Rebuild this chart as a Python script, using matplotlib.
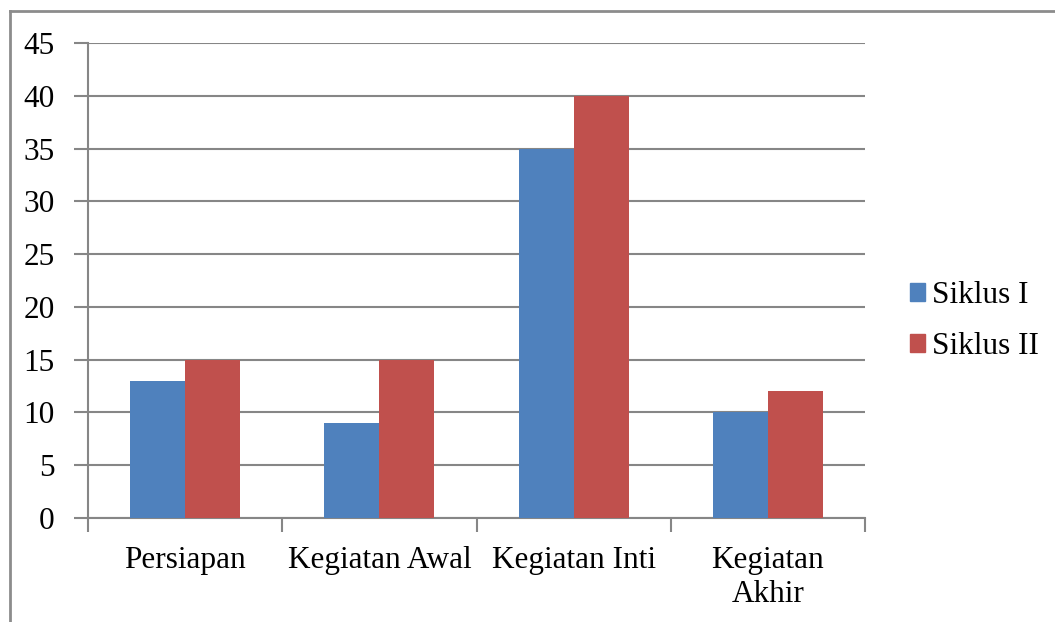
import matplotlib.pyplot as plt
import numpy as np
from matplotlib.patches import Patch
from matplotlib.lines import Line2D

kategori = ['Persiapan', 'Kegiatan Awal', 'Kegiatan Inti', 'Kegiatan\nAkhir']
siklus_1 = [13, 9, 35, 10]
siklus_2 = [15, 15, 40, 12]
seri = ['Siklus I', 'Siklus II']
warna = ['#4F81BD', '#C0504D']

plt.rcParams['font.family'] = ['Liberation Serif', 'DejaVu Serif']
fs = 22.5
abu = '#868686'

W, H = 1055, 622
fig = plt.figure(figsize=(W / 100, H / 100), dpi=100)
ax = fig.add_axes([88 / W, 1 - 518 / H, (865 - 88) / W, (518 - 43) / H])

x = np.arange(len(kategori))
lebar = 0.283
ax.bar(x - lebar / 2, siklus_1, lebar, color=warna[0], label=seri[0], zorder=3)
ax.bar(x + lebar / 2, siklus_2, lebar, color=warna[1], label=seri[1], zorder=3)

ax.set_xlim(-0.5, len(kategori) - 0.5)
ax.set_ylim(0, 45)
ax.set_yticks(range(0, 46, 5))
ax.yaxis.grid(True, color=abu, linewidth=1.5, zorder=0)

# tick kategori di batas, label di tengah
ax.set_xticks(np.arange(-0.5, len(kategori)), minor=False)
ax.set_xticklabels([])
ax.set_xticks(x, minor=True)
ax.set_xticklabels(kategori, minor=True, fontsize=fs, linespacing=1.25)
ax.tick_params(axis='x', which='minor', length=0, pad=20)
ax.tick_params(axis='x', which='major', length=10, width=1.5, color=abu, direction='out')
ax.tick_params(axis='y', length=10, width=1.5, color=abu, labelsize=fs, pad=14)

for s in ['top', 'right']:
    ax.spines[s].set_visible(False)
for s in ['left', 'bottom']:
    ax.spines[s].set_color(abu)
    ax.spines[s].set_linewidth(1.5)

handles = [Patch(color=warna[0]), Patch(color=warna[1])]
fig.legend(handles, seri, loc='center left', bbox_to_anchor=(897 / W, 1 - 321 / H),
           frameon=False, fontsize=fs, handlelength=0.5, handleheight=0.5,
           handletextpad=0.22, labelspacing=0.72, borderaxespad=0)

# bingkai luar grafik
fig.add_artist(Line2D([10 / W, 10 / W], [0, 1 - 11 / H], color='#8c8c8c', lw=2, transform=fig.transFigure))
fig.add_artist(Line2D([10 / W, 1], [1 - 11 / H, 1 - 11 / H], color='#8c8c8c', lw=2, transform=fig.transFigure))

fig.savefig('out.png', dpi=100)
